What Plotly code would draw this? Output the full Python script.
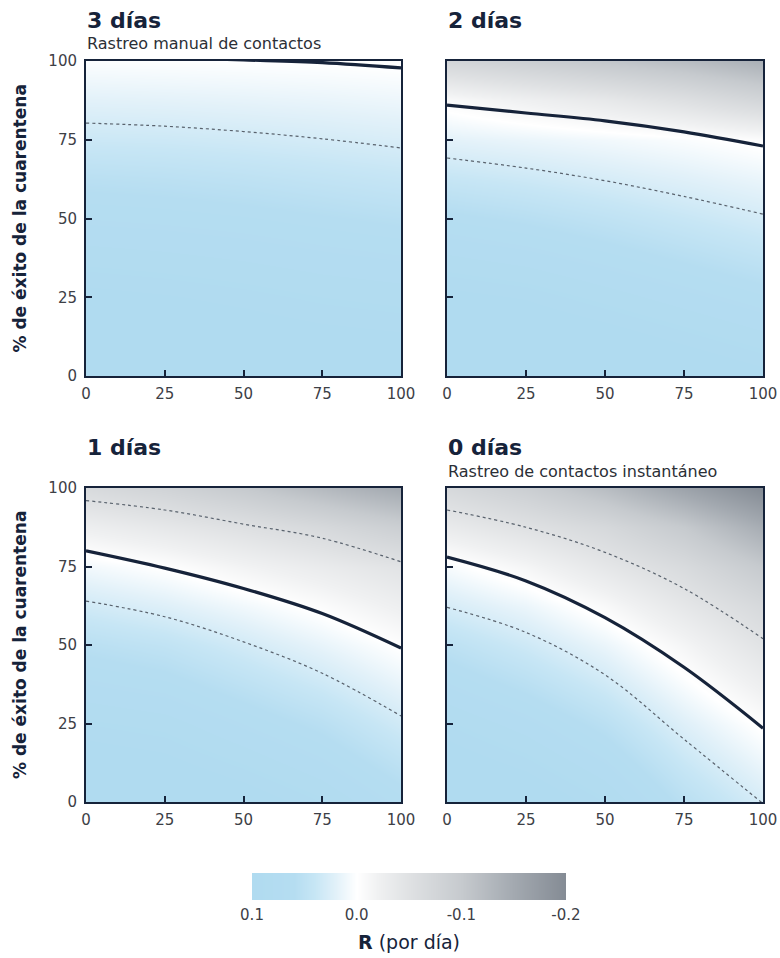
import plotly.graph_objects as go

# ---------------- data ----------------
GRID_X = [0, 25, 50, 75, 100]
GRID_Y = [0, 25, 50, 62.5, 75, 87.5, 100]

PANEL_TITLES = ["3 días", "2 días", "1 días", "0 días"]
PANEL_SUBTITLES = ["Rastreo manual de contactos", "", "", "Rastreo de contactos instantáneo"]

# R (per day) estimated on the grid: rows = GRID_Y, columns = GRID_X
R_3DIAS = [
    [0.12, 0.118, 0.115, 0.112, 0.11],
    [0.10, 0.097, 0.093, 0.088, 0.085],
    [0.07, 0.068, 0.065, 0.061, 0.057],
    [0.055, 0.053, 0.05, 0.046, 0.042],
    [0.037, 0.036, 0.0334, 0.0304, 0.027],
    [0.02, 0.0187, 0.017, 0.0149, 0.0122],
    [0.0025, 0.0015, 0.0005, -0.0006, -0.0026],
]
R_2DIAS = [
    [0.13, 0.125, 0.12, 0.11, 0.10],
    [0.10, 0.095, 0.085, 0.075, 0.065],
    [0.0635, 0.057, 0.049, 0.040, 0.031],
    [0.0415, 0.036, 0.029, 0.022, 0.0143],
    [0.0194, 0.0146, 0.0095, 0.0037, -0.004],
    [-0.008, -0.022, -0.036, -0.053, -0.075],
    [-0.075, -0.09, -0.105, -0.12, -0.14],
]
R_1DIAS = [
    [0.12, 0.115, 0.105, 0.09, 0.067],
    [0.09, 0.085, 0.07, 0.055, 0.033],
    [0.055, 0.047, 0.032, 0.016, -0.002],
    [0.033, 0.023, 0.0097, -0.005, -0.024],
    [0.0094, -0.0014, -0.017, -0.031, -0.046],
    [-0.025, -0.038, -0.052, -0.068, -0.09],
    [-0.065, -0.08, -0.1, -0.125, -0.15],
]
R_0DIAS = [
    [0.12, 0.11, 0.09, 0.055, 0.029],
    [0.09, 0.075, 0.054, 0.023, -0.0034],
    [0.052, 0.035, 0.014, -0.014, -0.0466],
    [0.029, 0.0136, -0.009, -0.039, -0.068],
    [0.0056, -0.0135, -0.039, -0.064, -0.1],
    [-0.032, -0.05, -0.069, -0.1, -0.145],
    [-0.068, -0.09, -0.12, -0.16, -0.2],
]
R_GRIDS = [R_3DIAS, R_2DIAS, R_1DIAS, R_0DIAS]

# contour lines (y value at each LINE_X)
LINE_X = [0, 25, 50, 75, 100]
SOLID_LINES = [
    [101.8, 101.1, 100.35, 99.5, 97.8],
    [86, 83.5, 81, 77.5, 73],
    [80, 74.5, 68, 60, 49],
    [78, 70.4, 58.7, 42.9, 23.5],
]
LOWER_DASHED = [
    [80.3, 79.3, 77.6, 75.3, 72.4],
    [69.2, 66, 62, 57, 51.4],
    [64, 59, 51, 41, 27.4],
    [62, 54, 40.5, 20, -0.5],
]
UPPER_DASHED = [
    None,
    None,
    [96, 93, 88.5, 84, 76.5],
    [93, 87.5, 79.5, 68, 52],
]

TICK_VALS = [0, 25, 50, 75, 100]
CB_TICKS = [0.1, 0.0, -0.1, -0.2]
CB_LABELS = ["0.1", "0.0", "-0.1", "-0.2"]
Y_TITLE = "% de éxito de la cuarentena"

# ---------------- style ----------------
W, H = 780, 958
NAVY = "#16233a"
TICKC = "#3d4046"
FONT = "'DejaVu Sans', sans-serif"

COLORSCALE = [
    [0.0, "#848b94"],
    [0.1667, "#a3a9b0"],
    [0.3333, "#c6cace"],
    [0.5, "#dfe1e3"],
    [0.6, "#f0f1f2"],
    [0.6667, "#ffffff"],
    [0.7333, "#e2f1f9"],
    [0.8, "#c7e6f5"],
    [0.8667, "#b5ddf1"],
    [1.0, "#b0dbf0"],
]

def px_x(p):
    return p / W

def px_y(p):
    return 1 - p / H

# panel boxes in pixels: (left, right, top, bottom)
BOXES = [
    (86, 401, 61, 376),
    (447, 763, 61, 376),
    (86, 401, 488, 802),
    (447, 763, 488, 802),
]

fig = go.Figure()
layout = dict(
    width=W, height=H,
    margin=dict(l=0, r=0, t=0, b=0, autoexpand=False),
    paper_bgcolor="white", plot_bgcolor="white",
    showlegend=False,
    font=dict(family=FONT, color=TICKC),
)
annotations = []

for i in range(4):
    ax = "" if i == 0 else str(i + 1)
    xa, ya = "x" + ax, "y" + ax
    l, r, t, b = BOXES[i]
    fig.add_trace(go.Heatmap(
        x=GRID_X, y=GRID_Y, z=R_GRIDS[i], zsmooth="best",
        colorscale=COLORSCALE, zmin=-0.2, zmax=0.1, showscale=False,
        xaxis=xa, yaxis=ya, hoverinfo="skip",
    ))
    if UPPER_DASHED[i] is not None:
        fig.add_trace(go.Scatter(
            x=LINE_X, y=UPPER_DASHED[i], mode="lines", xaxis=xa, yaxis=ya,
            line=dict(color="#59626d", width=1.2, dash="dot", shape="spline", smoothing=1.0),
        ))
    fig.add_trace(go.Scatter(
        x=LINE_X, y=LOWER_DASHED[i], mode="lines", xaxis=xa, yaxis=ya,
        line=dict(color="#59626d", width=1.2, dash="dot", shape="spline", smoothing=1.0),
    ))
    fig.add_trace(go.Scatter(
        x=LINE_X, y=SOLID_LINES[i], mode="lines", xaxis=xa, yaxis=ya,
        line=dict(color=NAVY, width=3.2, shape="spline", smoothing=1.0),
    ))
    axis_common = dict(
        range=[0, 100], tickvals=TICK_VALS, ticks="inside", ticklen=6,
        tickwidth=2, tickcolor=NAVY, showline=True, mirror=True,
        linewidth=2, linecolor=NAVY, showgrid=False, zeroline=False,
        automargin=False,
        tickfont=dict(size=15, color=TICKC, family=FONT),
    )
    layout["xaxis" + ax] = dict(axis_common, domain=[px_x(l), px_x(r)],
                                anchor=ya, ticklabelstandoff=3)
    layout["yaxis" + ax] = dict(axis_common, domain=[px_y(b), px_y(t)],
                                anchor=xa, showticklabels=(i % 2 == 0),
                                ticklabelstandoff=4)
    # titles
    sub = PANEL_SUBTITLES[i]
    annotations.append(dict(
        xref="paper", yref="paper", x=px_x(l - 1), y=px_y(t - 41),
        xanchor="left", yanchor="middle", showarrow=False,
        text="<b>" + PANEL_TITLES[i] + "</b>",
        font=dict(size=22, color=NAVY, family=FONT),
    ))
    if sub:
        annotations.append(dict(
            xref="paper", yref="paper", x=px_x(l - 1), y=px_y(t - 17),
            xanchor="left", yanchor="middle", showarrow=False,
            text=sub, font=dict(size=16, color="#2b2f36", family=FONT),
        ))
    if i % 2 == 0:
        annotations.append(dict(
            xref="paper", yref="paper", x=px_x(20), y=px_y((t + b) / 2),
            xanchor="center", yanchor="middle", showarrow=False, textangle=-90,
            text="<b>" + Y_TITLE + "</b>",
            font=dict(size=17, color=NAVY, family=FONT),
        ))

# colour bar drawn as its own heatmap so that 0.1 sits on the left
fig.add_trace(go.Heatmap(
    x=[CB_TICKS[0], CB_TICKS[-1]], y=[0], z=[[CB_TICKS[0], CB_TICKS[-1]]],
    zsmooth="best", colorscale=COLORSCALE, zmin=-0.2, zmax=0.1,
    showscale=False, xaxis="x5", yaxis="y5", hoverinfo="skip",
))
layout["xaxis5"] = dict(
    domain=[px_x(252), px_x(566)], anchor="y5", automargin=False,
    range=[CB_TICKS[0], CB_TICKS[-1]], tickvals=CB_TICKS, ticktext=CB_LABELS,
    showline=False, showgrid=False, zeroline=False, ticks="",
    ticklabelstandoff=4,
    tickfont=dict(size=15, color=TICKC, family=FONT),
)
layout["yaxis5"] = dict(
    domain=[px_y(900), px_y(873)], anchor="x5", range=[-0.5, 0.5],
    automargin=False,
    showticklabels=False, showgrid=False, zeroline=False, ticks="",
)
annotations.append(dict(
    xref="paper", yref="paper", x=px_x(409), y=px_y(942),
    xanchor="center", yanchor="middle", showarrow=False,
    text="<b>R</b> (por día)", font=dict(size=19, color=NAVY, family=FONT),
))

layout["annotations"] = annotations
fig.update_layout(**layout)
fig.write_html(
    "out.html",
    config={"displayModeBar": False},
    post_script="document.body.style.margin='0';document.body.style.overflow='hidden';",
)
